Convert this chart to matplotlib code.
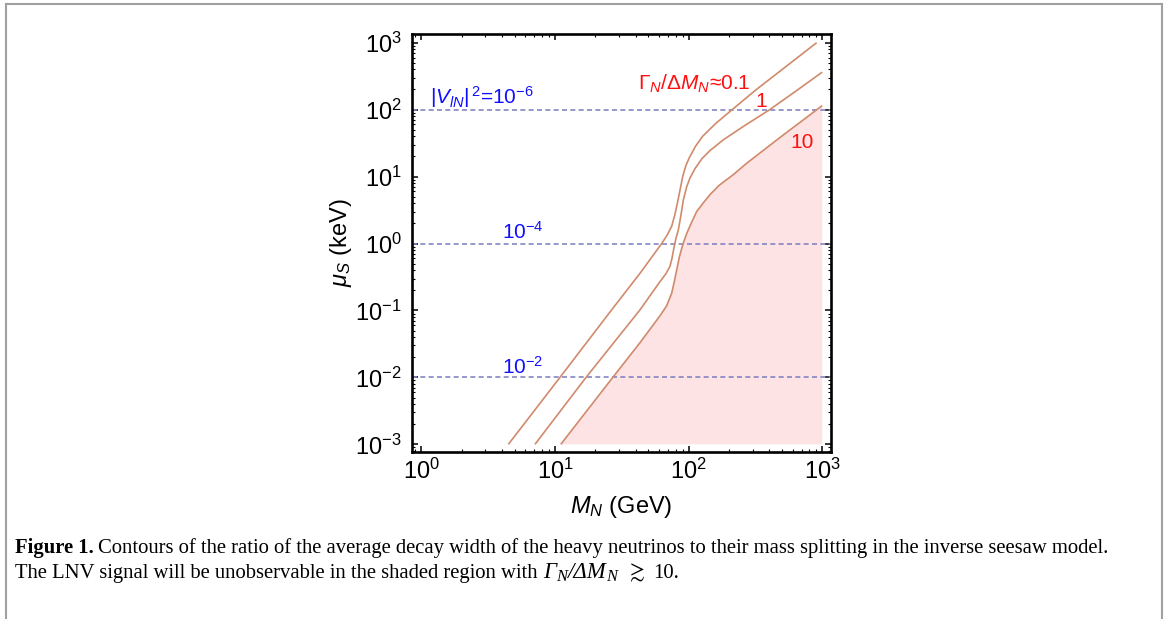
import matplotlib
matplotlib.use("Agg")
import matplotlib.pyplot as plt
import numpy as np
from matplotlib.lines import Line2D
from matplotlib.ticker import LogLocator, FuncFormatter, NullFormatter

plt.rcParams['font.family'] = ['Liberation Sans', 'DejaVu Sans']
plt.rcParams['mathtext.fontset'] = 'custom'
plt.rcParams['mathtext.rm'] = 'Liberation Sans'
plt.rcParams['mathtext.it'] = 'Liberation Sans:italic'
plt.rcParams['mathtext.bf'] = 'Liberation Sans:bold'

# ---- data (log10 M_N [GeV], log10 mu_S [keV]) ----
c01_logM  = [0.651, 1.037, 1.42, 1.636, 1.798, 1.84, 1.873, 1.895, 1.915, 1.935, 1.955,
             1.978, 2.004, 2.05, 2.103, 2.2, 2.325, 2.503, 2.957]
c01_logmu = [-3.0, -2.0, -1.0, -0.444, 0.0, 0.13, 0.26, 0.42, 0.60, 0.80, 1.0,
             1.16, 1.28, 1.45, 1.60, 1.79, 2.0, 2.296, 3.0]

c1_logM  = [0.850, 1.232, 1.636, 1.785, 1.830, 1.860, 1.875, 1.888, 1.905, 1.922, 1.940,
            1.960, 1.985, 2.010, 2.047, 2.10, 2.16, 2.259, 2.408, 2.606, 2.815, 2.998]
c1_logmu = [-3.0, -2.0, -0.99, -0.57, -0.45, -0.34, -0.22, -0.08, 0.08, 0.2, 0.4,
            0.652, 0.85, 0.98, 1.12, 1.27, 1.39, 1.549, 1.748, 2.0, 2.296, 2.56]

c10_logM  = [1.043, 1.432, 1.636, 1.785, 1.835, 1.873, 1.892, 1.910, 1.930, 1.948, 1.962,
             1.985, 2.02, 2.06, 2.11, 2.159, 2.228, 2.334, 2.434, 2.68, 2.998]
c10_logmu = [-3.0, -2.0, -1.48, -1.08, -0.93, -0.74, -0.57, -0.395, -0.2, -0.07, 0.02,
             0.15, 0.31, 0.48, 0.61, 0.73, 0.87, 1.03, 1.2, 1.58, 2.06]

mixing_levels = [100.0, 1.0, 0.01]          # mu_S values of the dashed |V|^2 lines
mixing_labels = [r'$|V_{lN}|^{\,2}$=10$^{-6}$', r'10$^{-4}$', r'10$^{-2}$']
ratio_labels = [r'$\Gamma_N/\Delta M_N$≈0.1', '1', '10']

xticks = [1, 10, 100, 1000]
yticks = [1e-3, 1e-2, 1e-1, 1, 10, 100, 1000]

# ---- figure ----
W, H = 1165, 619
fig = plt.figure(figsize=(W/100, H/100), dpi=100)
ax = fig.add_axes([411.7/W, 1-451.7/H, (830.7-411.7)/W, (451.7-34)/H])
ax.set_xscale('log'); ax.set_yscale('log')
ax.set_xlim(10**-0.072, 10**3.062)
ax.set_ylim(10**-3.11, 10**3.13)

curve_col = '#d08a6c'
shade_col = '#fde3e3'
dash_col = '#8585c2'

x10 = [10**v for v in c10_logM]
y10 = [10**v for v in c10_logmu]
ax.fill(x10 + [x10[-1], x10[0]], y10 + [y10[0], y10[0]], color=shade_col, lw=0, zorder=1)

for lv in mixing_levels:
    ax.axhline(lv, color=dash_col, lw=1.2, ls=(0, (3, 2)), zorder=2)

for lx, ly in [(c01_logM, c01_logmu), (c1_logM, c1_logmu), (c10_logM, c10_logmu)]:
    ax.plot([10**v for v in lx], [10**v for v in ly], color=curve_col, lw=1.2, zorder=3,
            solid_joinstyle='round', solid_capstyle='butt')

fs_ann = 15
blue = '#1010ff'
red = '#ff1010'
ax.text(10**0.065, 10**2.094, mixing_labels[0], color=blue, fontsize=fs_ann, ha='left', va='baseline')
ax.text(10**0.601, 10**0.064, mixing_labels[1], color=blue, fontsize=fs_ann, ha='left', va='baseline')
ax.text(10**0.601, 10**-1.939, mixing_labels[2], color=blue, fontsize=fs_ann, ha='left', va='baseline')
ax.text(10**1.623, 10**2.296, ratio_labels[0], color=red, fontsize=fs_ann, ha='left', va='baseline')
ax.text(10**2.544, 10**2.037, ratio_labels[1], color=red, fontsize=fs_ann, ha='center', va='baseline')
ax.text(10**2.851, 10**1.425, ratio_labels[2], color=red, fontsize=fs_ann, ha='center', va='baseline')

def powfmt(v, pos):
    e = int(round(np.log10(v)))
    return r'$10^{%d}$' % e if e >= 0 else r'$10^{-%d}$' % (-e)

fs_tick = 17
ax.set_xticks(xticks); ax.set_yticks(yticks)
ax.xaxis.set_major_formatter(FuncFormatter(powfmt))
ax.yaxis.set_major_formatter(FuncFormatter(powfmt))
ax.xaxis.set_minor_locator(LogLocator(base=10, subs=np.arange(2, 10), numticks=20))
ax.yaxis.set_minor_locator(LogLocator(base=10, subs=np.arange(2, 10), numticks=20))
ax.xaxis.set_minor_formatter(NullFormatter()); ax.yaxis.set_minor_formatter(NullFormatter())
ax.tick_params(which='both', direction='in', top=True, right=True, colors='black')
ax.tick_params(which='major', length=4, width=1.1, labelsize=fs_tick)
ax.tick_params(which='minor', length=2, width=0.8)
ax.tick_params(axis='x', which='major', pad=5)
ax.tick_params(axis='y', which='major', pad=7)
for s in ax.spines.values():
    s.set_linewidth(1.9)

ax.set_xlabel(r'$M_N$ (GeV)', fontsize=17, labelpad=7)
ax.set_ylabel(r'$\mu_S$ (keV)', fontsize=17, labelpad=1)

# ---- caption ----
renderer = fig.canvas.get_renderer()
cap_font = ['Liberation Serif', 'DejaVu Serif']
cap_fs = 14.9

def seq_text(x_px, y_px, pieces):
    x = x_px
    for s, kw, dy, gap in pieces:
        x += gap
        t = fig.text(x/W, 1-(y_px+dy)/H, s, ha='left', va='baseline', **kw)
        x += t.get_window_extent(renderer).width
    return x

rm = dict(fontsize=cap_fs, family=cap_font)
bf = dict(fontsize=cap_fs, family=cap_font, fontweight='bold')
it = dict(fontsize=cap_fs*1.1, family=cap_font, style='italic')
sub = dict(fontsize=cap_fs*0.8, family=cap_font, style='italic')
seq_text(15, 553, [
    ('Figure 1.', bf, 0, 0),
    ('Contours of the ratio of the average decay width of the heavy neutrinos to their mass splitting in the inverse seesaw model.', rm, 0, 4),
])
seq_text(15, 578, [
    ('The LNV signal will be unobservable in the shaded region with', rm, 0, 0),
    ('Γ', it, 0, 6),
    ('N', sub, 3, 0),
    ('/ΔM', it, 0, 0),
    ('N', sub, 3, 0),
    (r'$\gtrsim$', dict(fontsize=cap_fs*1.05, math_fontfamily='stix'), 0, 9),
    ('10.', rm, 0, 8),
])

# ---- border ----
bcol = '#a0a0a0'
fig.add_artist(Line2D([5.5/W, 5.5/W], [0, 1-3.5/H], color=bcol, lw=1.5, transform=fig.transFigure))
fig.add_artist(Line2D([5.5/W, 1161.5/W], [1-3.5/H, 1-3.5/H], color=bcol, lw=1.5, transform=fig.transFigure))
fig.add_artist(Line2D([1161.5/W, 1161.5/W], [0, 1-3.5/H], color=bcol, lw=1.5, transform=fig.transFigure))

fig.savefig('out.png', dpi=100)
